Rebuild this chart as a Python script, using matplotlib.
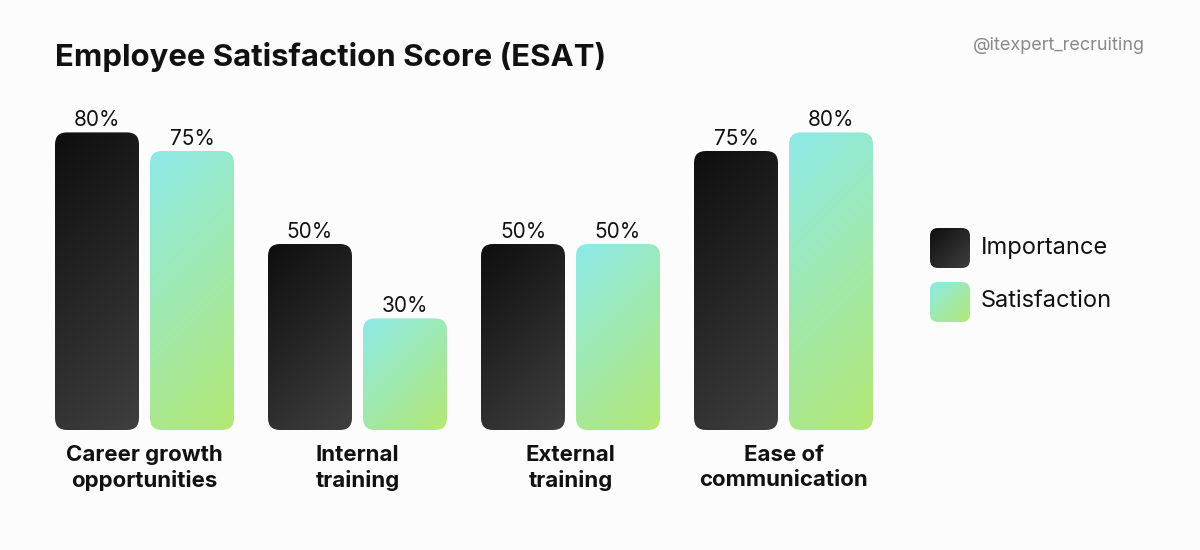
import numpy as np
import matplotlib.pyplot as plt
from matplotlib.patches import FancyBboxPatch
from matplotlib.colors import LinearSegmentedColormap

categories = ['Career growth\nopportunities', 'Internal\ntraining',
              'External\ntraining', 'Ease of\ncommunication']
importance = [80, 50, 50, 75]
satisfaction = [75, 30, 50, 80]
series_names = ['Importance', 'Satisfaction']

dark_cmap = LinearSegmentedColormap.from_list('dark', ['#0e0e0e', '#3f3f3f'])
green_cmap = LinearSegmentedColormap.from_list('green', ['#8deae8', '#b3e873'])

plt.rcParams['font.family'] = ['Inter', 'DejaVu Sans']

BG = '#fcfcfc'
fig = plt.figure(figsize=(12, 5.5), dpi=100, facecolor=BG)
ax = fig.add_axes([0, 0, 1, 1])
ax.set_facecolor(BG)

# pixel mapping: group step 213px, 1% = 3.72px, baseline at y=430px
XS, YS = 213.0, 3.72
ax.axis('off')

x = np.arange(len(categories))
width = 84 / XS
offset = 95 / XS


def make_grad(w_px, h_px, n=200):
    # 45 deg gradient in pixel space, top-left -> bottom-right
    u = np.linspace(0, 1, n)
    return (u[None, :] * w_px + u[:, None] * h_px) / (w_px + h_px)


def gradient_bar(rect, cmap, radius_px=12):
    x0, y0 = rect.get_x(), rect.get_y()
    w, h = rect.get_width(), rect.get_height()
    rect.set_visible(False)
    rx = radius_px / XS
    ry = radius_px / YS
    patch = FancyBboxPatch((x0, y0), w, h,
                           boxstyle=f'round,pad=0,rounding_size={rx}',
                           mutation_aspect=ry / rx,
                           facecolor='none', edgecolor='none')
    ax.add_patch(patch)
    im = ax.imshow(make_grad(w * XS, h * YS), cmap=cmap, vmin=0, vmax=1,
                   extent=(x0, x0 + w, y0, y0 + h),
                   origin='upper', aspect='auto', interpolation='bilinear', zorder=2)
    im.set_clip_path(patch)
    ax.text(x0 + w / 2, y0 + h + 1.6, f'{h:.0f}%', ha='center', va='baseline',
            fontsize=15, color='#111111')


bars_imp = ax.bar(x, importance, width, align='center')
bars_sat = ax.bar(x + offset, satisfaction, width, align='center')
for r in bars_imp:
    gradient_bar(r, dark_cmap)
for r in bars_sat:
    gradient_bar(r, green_cmap)

ax.set_xlim(-97 / XS, (1200 - 97) / XS)
ax.set_ylim(-(550 - 430) / YS, 430 / YS)

for i, cat in enumerate(categories):
    ax.text(x[i] + offset / 2, -15 / YS, cat, ha='center', va='top',
            fontsize=16, fontweight='bold', color='#111111', linespacing=1.3)

# title and watermark
fig.text(55 / 1200, 1 - 66 / 550, 'Employee Satisfaction Score (ESAT)',
         fontsize=22.4, fontweight='bold', color='#111111', va='baseline')
fig.text(1145 / 1200, 1 - 50 / 550, '@itexpert_recruiting',
         fontsize=13, color='#8a8a8a', ha='right', va='baseline')

# legend
leg_ax = fig.add_axes([930 / 1200, 1 - 322 / 550, 40 / 1200, 94 / 550])
leg_ax.axis('off')
for k, (name, cmap) in enumerate(zip(series_names, [dark_cmap, green_cmap])):
    y0 = 54 - k * 54
    p = FancyBboxPatch((0, y0), 40, 40, boxstyle='round,pad=0,rounding_size=8',
                       facecolor='none', edgecolor='none')
    leg_ax.add_patch(p)
    im = leg_ax.imshow(make_grad(40, 40), cmap=cmap, vmin=0, vmax=1,
                       extent=(0, 40, y0, y0 + 40),
                       origin='upper', aspect='auto', interpolation='bilinear')
    im.set_clip_path(p)
    fig.text(981 / 1200, 1 - (248 + k * 53) / 550, name, fontsize=17,
             color='#111111', va='center')
leg_ax.set_xlim(0, 40)
leg_ax.set_ylim(0, 94)

fig.savefig('out.png', dpi=100, facecolor=BG)
